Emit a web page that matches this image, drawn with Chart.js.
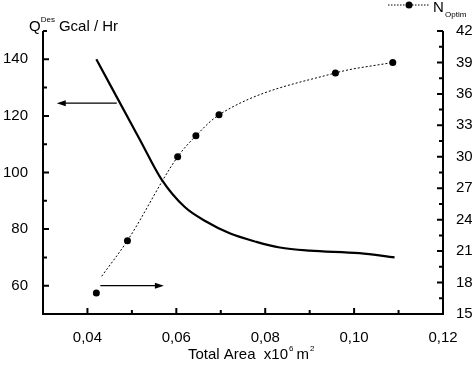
<!DOCTYPE html>
<html>
<head>
<meta charset="utf-8">
<script src="https://cdn.jsdelivr.net/npm/chart.js@4.4.0/dist/chart.umd.min.js"></script>
<style>
  html, body { margin: 0; padding: 0; background: #fff; }
  #wrap { width: 472px; height: 367px; }
</style>
</head>
<body>
<div id="wrap"><canvas id="myChart"></canvas></div>
<script>
// Q design curve, left axis (Gcal/Hr)
var qArea  = [0.042, 0.0518, 0.0567, 0.0619, 0.0668, 0.072, 0.078, 0.0833, 0.090, 0.1012, 0.1091];
var qValue = [140, 111.6, 97.5, 87.8, 82.6, 78.5, 75.5, 73.5, 72.4, 71.5, 70.0];

// N optimum points, right axis
var nArea  = [0.042, 0.049, 0.0603, 0.0644, 0.0696, 0.0958, 0.1087];
var nValue = [17, 22, 30, 32, 34, 38, 39];
// dotted fitted line for N (starts a bit above the first point)
var nLineArea  = [0.0432, 0.049, 0.0603, 0.0644, 0.0696, 0.0958, 0.1087];
var nLineValue = [18.6, 22, 30, 32, 34, 38, 39];

// tick labels
var xTicks = [0.04, 0.06, 0.08, 0.10, 0.12];
var xMinor = [0.05, 0.07, 0.09, 0.11];
var qTicks = [60, 80, 100, 120, 140];
var qMinor = [70, 90, 110, 130, 150];
var nTicks = [15, 18, 21, 24, 27, 30, 33, 36, 39, 42];

// arrows: [from area, to area, Q value]
var arrowLeft  = [0.0466, 0.0331, 124.5];
var arrowRight = [0.0429, 0.0572, 60];

function pairs(xs, ys) {
    return xs.map(function (x, i) { return { x: x, y: ys[i] }; });
}

var FONT = '"Liberation Sans", Arial, sans-serif';

function arrow(ctx, x1, y1, x2, y2) {
    var dir = x2 > x1 ? 1 : -1;
    ctx.beginPath();
    ctx.moveTo(x1, y1);
    ctx.lineTo(x2 - dir * 6, y2);
    ctx.stroke();
    ctx.beginPath();
    ctx.moveTo(x2, y2);
    ctx.lineTo(x2 - dir * 9, y2 - 3);
    ctx.lineTo(x2 - dir * 9, y2 + 3);
    ctx.closePath();
    ctx.fill();
}

var decor = {
    id: 'decor',
    afterDraw: function (chart) {
        var ctx = chart.ctx;
        var a = chart.chartArea;
        var sx = chart.scales.x, sq = chart.scales.yQ, sn = chart.scales.yN;
        ctx.save();
        ctx.strokeStyle = '#000';
        ctx.fillStyle = '#000';

        // axes lines
        ctx.lineWidth = 2;
        ctx.beginPath();
        ctx.moveTo(a.left, a.top);
        ctx.lineTo(a.left, a.bottom);
        ctx.lineTo(a.right, a.bottom);
        ctx.lineTo(a.right, a.top);
        ctx.stroke();

        // inward ticks
        ctx.beginPath();
        xTicks.forEach(function (v) {
            var p = sx.getPixelForValue(v);
            ctx.moveTo(p, a.bottom); ctx.lineTo(p, a.bottom - 6);
        });
        xMinor.forEach(function (v) {
            var p = sx.getPixelForValue(v);
            ctx.moveTo(p, a.bottom); ctx.lineTo(p, a.bottom - 4);
        });
        qTicks.forEach(function (v) {
            var p = sq.getPixelForValue(v);
            ctx.moveTo(a.left, p); ctx.lineTo(a.left + 6, p);
        });
        qMinor.forEach(function (v) {
            var p = sq.getPixelForValue(v);
            ctx.moveTo(a.left, p); ctx.lineTo(a.left + 4, p);
        });
        nTicks.forEach(function (v) {
            var p = sn.getPixelForValue(v);
            ctx.moveTo(a.right, p); ctx.lineTo(a.right - 6, p);
            var m = sn.getPixelForValue(v + 1.5);
            if (v < 42) { ctx.moveTo(a.right, m); ctx.lineTo(a.right - 4, m); }
        });
        ctx.stroke();

        // arrows
        ctx.lineWidth = 1.3;
        arrow(ctx, sx.getPixelForValue(arrowLeft[0]), sq.getPixelForValue(arrowLeft[2]),
              sx.getPixelForValue(arrowLeft[1]), sq.getPixelForValue(arrowLeft[2]));
        arrow(ctx, sx.getPixelForValue(arrowRight[0]), sq.getPixelForValue(arrowRight[2]),
              sx.getPixelForValue(arrowRight[1]), sq.getPixelForValue(arrowRight[2]));

        // left axis title  Q^Des Gcal / Hr
        ctx.textBaseline = 'alphabetic';
        ctx.textAlign = 'left';
        var x = 29;
        ctx.font = '15px ' + FONT;
        ctx.fillText('Q', x, 31);
        x += ctx.measureText('Q').width;
        ctx.font = '8px ' + FONT;
        ctx.fillText('Des', x, 22);
        x += ctx.measureText('Des').width + 4;
        ctx.font = '15px ' + FONT;
        ctx.fillText('Gcal / Hr', x, 31);

        // x axis title  Total Area  x10^6 m^2
        x = 188;
        ctx.font = '15px ' + FONT;
        ctx.fillText('Total Area  x10', x, 359);
        x += ctx.measureText('Total Area  x10').width;
        ctx.font = '8px ' + FONT;
        ctx.fillText('6', x + 1, 351);
        x += ctx.measureText('6').width + 4;
        ctx.font = '15px ' + FONT;
        ctx.fillText('m', x, 359);
        x += ctx.measureText('m').width + 1;
        ctx.font = '8px ' + FONT;
        ctx.fillText('2', x, 351);

        // legend
        ctx.lineWidth = 1;
        ctx.setLineDash([1.5, 1.5]);
        ctx.beginPath();
        ctx.moveTo(388, 5); ctx.lineTo(430, 5);
        ctx.stroke();
        ctx.setLineDash([]);
        ctx.beginPath();
        ctx.arc(409, 5, 3.5, 0, Math.PI * 2);
        ctx.fill();
        ctx.font = '15px ' + FONT;
        ctx.fillText('N', 433, 12);
        ctx.font = '8px ' + FONT;
        ctx.fillText('Optim', 445, 17);

        ctx.restore();
    }
};

var ctx = document.getElementById('myChart').getContext('2d');
var chart = new Chart(ctx, {
    type: 'line',
    data: {
        datasets: [{
            label: 'QDes',
            data: pairs(qArea, qValue),
            yAxisID: 'yQ',
            borderColor: '#000',
            borderWidth: 2.2,
            pointRadius: 0,
            cubicInterpolationMode: 'monotone',
            fill: false
        }, {
            label: 'N line',
            data: pairs(nLineArea, nLineValue),
            yAxisID: 'yN',
            borderColor: '#000',
            borderWidth: 1,
            borderDash: [2, 2],
            pointRadius: 0,
            cubicInterpolationMode: 'monotone',
            fill: false
        }, {
            label: 'NOptim',
            data: pairs(nArea, nValue),
            yAxisID: 'yN',
            showLine: false,
            pointRadius: 3.5,
            pointBackgroundColor: '#000',
            pointBorderColor: '#000',
            pointBorderWidth: 0
        }]
    },
    options: {
        responsive: true,
        maintainAspectRatio: false,
        animation: false,
        layout: { padding: { top: 31, left: 0, right: 0, bottom: 0 } },
        plugins: { legend: { display: false }, tooltip: { enabled: false } },
        scales: {
            x: {
                type: 'linear',
                min: 0.03, max: 0.12,
                grid: { display: false },
                border: { display: false },
                afterBuildTicks: function (s) { s.ticks = xTicks.map(function (v) { return { value: v }; }); },
                afterFit: function (s) { s.height = 53; },
                ticks: {
                    padding: 7,
                    maxRotation: 0,
                    color: '#000',
                    font: { family: FONT, size: 15 },
                    callback: function (v) { return v.toFixed(2).replace('.', ','); }
                }
            },
            yQ: {
                type: 'linear',
                position: 'left',
                min: 50, max: 150,
                grid: { display: false },
                border: { display: false },
                afterBuildTicks: function (s) { s.ticks = qTicks.map(function (v) { return { value: v }; }); },
                afterFit: function (s) { s.width = 43; },
                ticks: { padding: 7, color: '#000', font: { family: FONT, size: 15 } }
            },
            yN: {
                type: 'linear',
                position: 'right',
                min: 15, max: 42,
                grid: { display: false },
                border: { display: false },
                afterBuildTicks: function (s) { s.ticks = nTicks.map(function (v) { return { value: v }; }); },
                afterFit: function (s) { s.width = 29; },
                ticks: { padding: 5, color: '#000', font: { family: FONT, size: 15 } }
            }
        }
    },
    plugins: [decor]
});
</script>
</body>
</html>
